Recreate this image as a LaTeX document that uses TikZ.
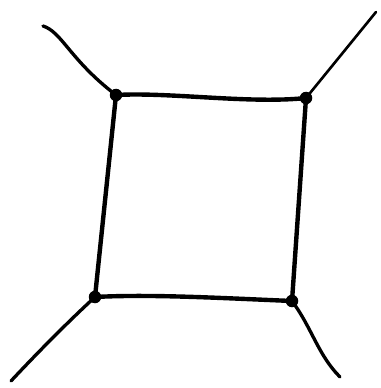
\documentclass[tikz,border=0pt]{standalone}
\usetikzlibrary{positioning}

\begin{document}
\begin{tikzpicture}[
  x=0.02cm, y=-0.02cm,
  vtx/.style={circle, fill=black, inner sep=0pt, minimum size=0.25cm},
  edge/.style={line width=2.5pt, line cap=round, black},
  leg/.style={line width=1.9pt, line cap=round, black}
]
\useasboundingbox (0,0) rectangle (381,388);
%% Vertices
\node[vtx] (tl) at (116, 95) {};
\node[vtx] (tr) at (306, 98) {};
\node[vtx] (br) at (292,301) {};
\node[vtx] (bl) at (95, 297) {};
%% Free ends
\coordinate (etl) at (43, 26);
\coordinate (etr) at (376, 12);
\coordinate (ebr) at (340,377);
\coordinate (ebl) at (11, 381);
%% Square
\draw[edge] (tl.center) .. controls (170,92) and (250,104) .. (tr.center);
\draw[edge] (tr.center) -- (br.center);
\draw[edge] (br.center) .. controls (220,298) and (150,294) .. (bl.center);
\draw[edge] (bl.center) -- (tl.center);
%% Legs
\draw[leg] (etl) .. controls (62,32) and (70,60) .. (tl.center);
\draw[leg, line width=1.5pt] (tr.center) -- (etr);
\draw[leg] (br.center) .. controls (312,328) and (318,355) .. (ebr);
\draw[leg] (bl.center) .. controls (70,320) and (40,350) .. (ebl);
\end{tikzpicture}
\end{document}
